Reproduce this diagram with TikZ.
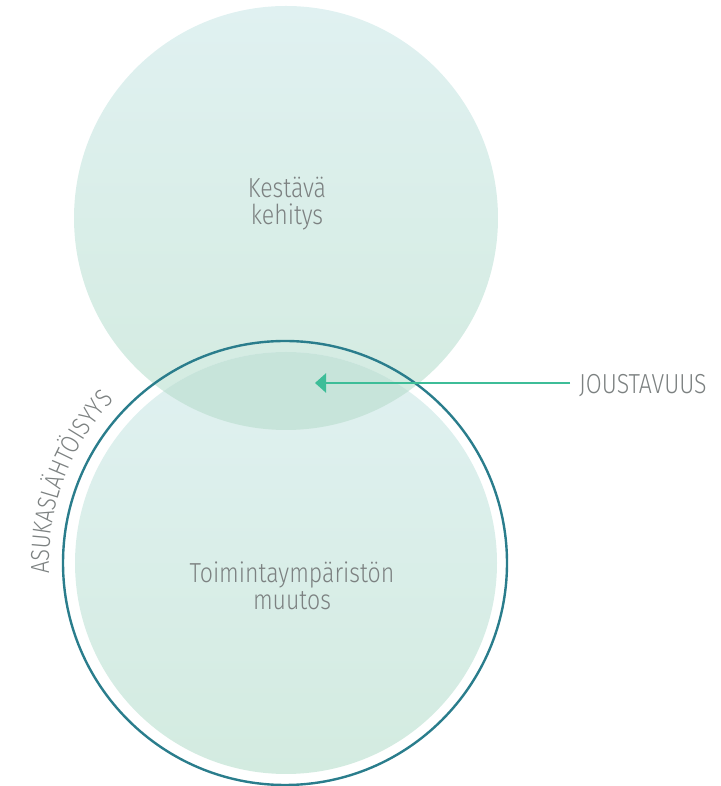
\documentclass[tikz,border=0pt]{standalone}
\usepackage{fontspec}
\setmainfont{Fira Sans Light}[FakeStretch=0.84]
\usetikzlibrary{arrows.meta,decorations.text}
\definecolor{txtgray}{HTML}{7C8181}
\definecolor{ringteal}{HTML}{2A7D8C}
\definecolor{arrowgreen}{HTML}{3DBD98}
\definecolor{ctop}{HTML}{E0F1F1}
\definecolor{cbot}{HTML}{D3EBE0}
\definecolor{overlap}{HTML}{C7E4DA}
\tikzset{
  bubble/.style={top color=ctop,bottom color=cbot,draw=none},
  label/.style={text=txtgray,font=\fontsize{27.5}{27}\selectfont,align=center,inner sep=0pt},
}
\begin{document}
\begin{tikzpicture}[x=1pt,y=1pt]
\useasboundingbox (0,0) rectangle (720,786);
% circles
\path[bubble] (286,568) circle[radius=212];
\path[bubble] (286,223) circle[radius=211];
\begin{scope}
  \clip (286,568) circle[radius=212];
  \fill[overlap] (286,223) circle[radius=211];
\end{scope}
\draw[ringteal,line width=2.4pt] (285,223) circle[radius=222];
% labels
\node[label] (top) at (287,582) {Kestävä\\kehitys};
\node[label] (bottom) at (292,200) {Toimintaympäristön\\muutos};
\node[label,anchor=base west] (jou) at (579,392) {JOUSTAVUUS};
\coordinate (tip) at (315,403);
\coordinate (tail) at ([xshift=-9pt]jou.west |- tip);
\draw[arrowgreen,line width=2.2pt,-{Triangle[length=11pt,width=19pt]}] (tail) -- (tip);
% curved text
\path[decorate,decoration={text along path,text align=center,
  text={|\fontsize{26}{26}\selectfont\color{txtgray}|ASUKASLÄHTÖISYYS}}]
  (285,223) ++(182:236) arc[start angle=182,end angle=137,radius=236];
\end{tikzpicture}
\end{document}
